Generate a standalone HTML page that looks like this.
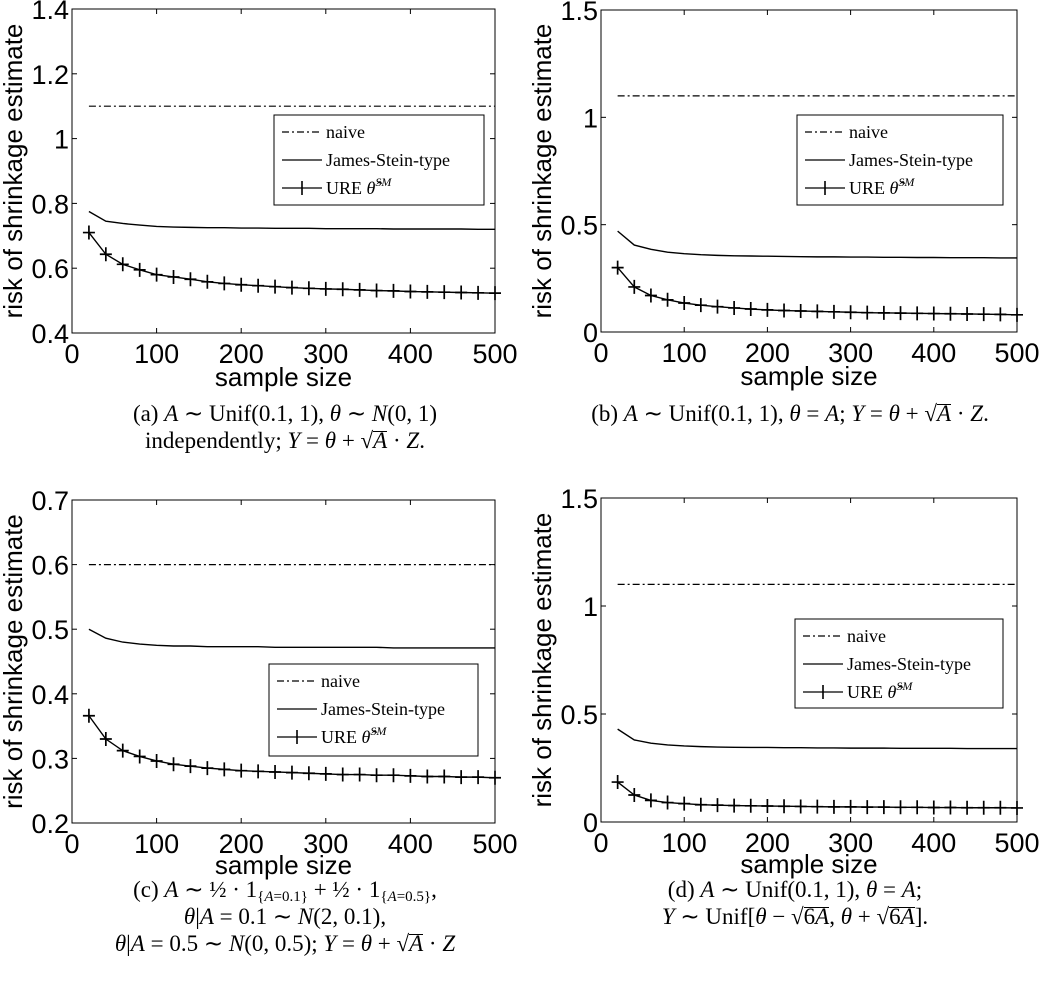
<!DOCTYPE html>
<html><head><meta charset="utf-8"><style>
body{margin:0;background:#fff;width:1050px;height:987px;overflow:hidden;position:relative;font-family:"Liberation Sans",sans-serif}
.cap{position:absolute;font-family:"Liberation Serif",serif;font-size:23px;text-align:center;white-space:nowrap;line-height:27px;color:#000}
.cap i{font-style:italic}
.cap sub{font-size:15px;line-height:0;vertical-align:-4px}
.ov{border-top:1px solid #000;line-height:17px;display:inline-block}
svg{position:absolute;left:0;top:0}
</style></head><body>
<svg id="chart" width="1050" height="987"></svg>
<div class="cap" style="left:75px;width:420px;top:400px">(a) <i>A</i> ∼ Unif(0.1, 1), <i>θ</i> ∼ <i>N</i>(0, 1)<br>independently; <i>Y</i> = <i>θ</i> + √<span class="ov"><i>A</i></span> · <i>Z</i>.</div>
<div class="cap" style="left:555px;width:470px;top:400px">(b) <i>A</i> ∼ Unif(0.1, 1), <i>θ</i> = <i>A</i>; <i>Y</i> = <i>θ</i> + √<span class="ov"><i>A</i></span> · <i>Z</i>.</div>
<div class="cap" style="left:40px;width:490px;top:876px">(c) <i>A</i> ∼ ½ · 1<sub>{<i>A</i>=0.1}</sub> + ½ · 1<sub>{<i>A</i>=0.5}</sub>,<br><i>θ</i>|<i>A</i> = 0.1 ∼ <i>N</i>(2, 0.1),<br><i>θ</i>|<i>A</i> = 0.5 ∼ <i>N</i>(0, 0.5); <i>Y</i> = <i>θ</i> + √<span class="ov"><i>A</i></span> · <i>Z</i></div>
<div class="cap" style="left:560px;width:470px;top:876px">(d) <i>A</i> ∼ Unif(0.1, 1), <i>θ</i> = <i>A</i>;<br><i>Y</i> ∼ Unif[<i>θ</i> − √<span class="ov">6<i>A</i></span>, <i>θ</i> + √<span class="ov">6<i>A</i></span>].</div>
<script>
const sampleSizes=[20,40,60,80,100,120,140,160,180,200,220,240,260,280,300,320,340,360,380,400,420,440,460,480,500];
const naiveA=1.1, naiveB=1.1, naiveC=0.6, naiveD=1.1;
const jsA=[0.775,0.745,0.738,0.733,0.729,0.727,0.726,0.725,0.725,0.724,0.724,0.723,0.723,0.723,0.722,0.722,0.722,0.722,0.721,0.721,0.721,0.721,0.721,0.72,0.72];
const ureA=[0.71,0.643,0.612,0.595,0.58,0.573,0.566,0.558,0.553,0.549,0.546,0.543,0.54,0.538,0.536,0.535,0.533,0.531,0.53,0.528,0.527,0.526,0.525,0.524,0.523];
const jsB=[0.47,0.405,0.385,0.372,0.365,0.36,0.357,0.355,0.354,0.353,0.352,0.351,0.35,0.35,0.349,0.349,0.348,0.348,0.347,0.347,0.346,0.346,0.346,0.345,0.345];
const ureB=[0.3,0.21,0.17,0.15,0.135,0.125,0.118,0.112,0.107,0.103,0.1,0.098,0.096,0.094,0.092,0.09,0.089,0.088,0.087,0.086,0.085,0.084,0.083,0.082,0.08];
const jsC=[0.5,0.486,0.48,0.477,0.475,0.474,0.474,0.473,0.473,0.473,0.473,0.472,0.472,0.472,0.472,0.472,0.472,0.472,0.471,0.471,0.471,0.471,0.471,0.471,0.471];
const ureC=[0.366,0.33,0.312,0.303,0.296,0.291,0.288,0.285,0.283,0.281,0.28,0.279,0.278,0.277,0.276,0.275,0.275,0.274,0.274,0.273,0.272,0.272,0.271,0.271,0.27];
const jsD=[0.43,0.38,0.365,0.357,0.352,0.349,0.347,0.346,0.345,0.345,0.344,0.344,0.343,0.343,0.342,0.342,0.342,0.341,0.341,0.341,0.341,0.34,0.34,0.34,0.34];
const ureD=[0.185,0.125,0.1,0.09,0.085,0.08,0.078,0.076,0.075,0.074,0.073,0.072,0.071,0.07,0.07,0.069,0.069,0.068,0.068,0.067,0.067,0.066,0.066,0.066,0.065];
const xTicks=[0,100,200,300,400,500];
const yTicksA=[0.4,0.6,0.8,1,1.2,1.4];
const yTicksB=[0,0.5,1,1.5];
const yTicksC=[0.2,0.3,0.4,0.5,0.6,0.7];
const yTicksD=[0,0.5,1,1.5];

const NS='http://www.w3.org/2000/svg';
const svg=document.getElementById('chart');
function el(tag,attrs,parent){const e=document.createElementNS(NS,tag);for(const k in attrs)e.setAttribute(k,attrs[k]);(parent||svg).appendChild(e);return e;}
function fmt(v){return String(v);}
function panel(id,box,yTicks,naive,js,ure,leg,titleOff){
  const [L,T,R,B]=box, y0=yTicks[0], y1=yTicks[yTicks.length-1];
  const sx=v=>L+(v-0)/(500-0)*(R-L);
  const sy=v=>B-(v-y0)/(y1-y0)*(B-T);
  const g=el('g',{});
  
  
  const fr=el('rect',{x:L,y:T,width:R-L,height:B-T,fill:'none',stroke:'#000','stroke-width':1},g);
  
  
  xTicks.forEach(t=>{const x=sx(t);
    el('line',{x1:x,y1:B,x2:x,y2:B-5,stroke:'#000'},g);el('line',{x1:x,y1:T,x2:x,y2:T+5,stroke:'#000'},g);
    const tx=el('text',{x:x,y:B+30,'text-anchor':'middle','font-size':27,'font-family':'Liberation Sans'},g);tx.textContent=t;
    
    });
  yTicks.forEach(t=>{const y=sy(t);
    el('line',{x1:L,y1:y,x2:L+5,y2:y,stroke:'#000'},g);el('line',{x1:R,y1:y,x2:R-5,y2:y,stroke:'#000'},g);
    const tx=el('text',{x:L-3,y:y+10,'text-anchor':'end','font-size':27,'font-family':'Liberation Sans'},g);tx.textContent=fmt(t);
    
    });
  const xl=el('text',{x:(L+R)/2,y:B+titleOff,'text-anchor':'middle','font-size':26,'font-family':'Liberation Sans'},g);xl.textContent='sample size';
  
  
  const yl=el('text',{x:0,y:0,'text-anchor':'middle','font-size':26,'font-family':'Liberation Sans',transform:`translate(${L-50},${(T+B)/2}) rotate(-90)`},g);yl.textContent='risk of shrinkage estimate';
  
  
  const nl=el('line',{x1:sx(sampleSizes[0]),x2:sx(sampleSizes[sampleSizes.length-1]),y1:sy(naive),y2:sy(naive),stroke:'#000','stroke-width':1.2,'stroke-dasharray':'7,3,2,3'},g);
  
  
  const jl=el('polyline',{points:sampleSizes.map((s,i)=>sx(s)+','+sy(js[i])).join(' '),fill:'none',stroke:'#000','stroke-width':1.4},g);
  
  
  const ul=el('polyline',{points:sampleSizes.map((s,i)=>sx(s)+','+sy(ure[i])).join(' '),fill:'none',stroke:'#000','stroke-width':1.4},g);
  
  
  sampleSizes.forEach((s,i)=>{const x=sx(s),y=sy(ure[i]);
    const m=el('path',{d:`M${x-6},${y}H${x+6}M${x},${y-7}V${y+7}`,stroke:'#000','stroke-width':1.7},g);
    
    });
  const [lx,ly,lw,lh]=leg;
  const lg=el('g',{},g);
  
  
  el('rect',{x:lx,y:ly,width:lw,height:lh,fill:'#fff',stroke:'#000'},lg);
  const rows=['naive','James-Stein-type','URE'];
  rows.forEach((r,i)=>{const yy=ly+17+i*28;
    el('line',{x1:lx+8,x2:lx+48,y1:yy,y2:yy,stroke:'#000','stroke-dasharray':i==0?'7,3,2,3':'none','stroke-width':1.3},lg);
    if(i==2)el('path',{d:`M${lx+28},${yy-7}V${yy+7}`,stroke:'#000','stroke-width':1.6},lg);
    const t=el('text',{x:lx+52,y:yy+6,'font-size':18,'font-family':'Liberation Serif'},lg);
    t.textContent=i==2?'URE ':r;
    if(i==2){const ts=el('tspan',{'font-style':'italic'},t);ts.textContent='θ̂';const sp=el('tspan',{'font-size':12,'font-style':'italic',dy:-8},t);sp.textContent='SM';}
    
    });
}
panel('a',[72,9,495,333],yTicksA,naiveA,jsA,ureA,[274,115,210,90],53);
panel('b',[601,10,1017,332],yTicksB,naiveB,jsB,ureB,[797,115,206,90],53);
panel('c',[72,500,495,823],yTicksC,naiveC,jsC,ureC,[269,664,209,92],51);
panel('d',[601,498,1017,822],yTicksD,naiveD,jsD,ureD,[795,619,208,89],51);
</script>
</body></html>
